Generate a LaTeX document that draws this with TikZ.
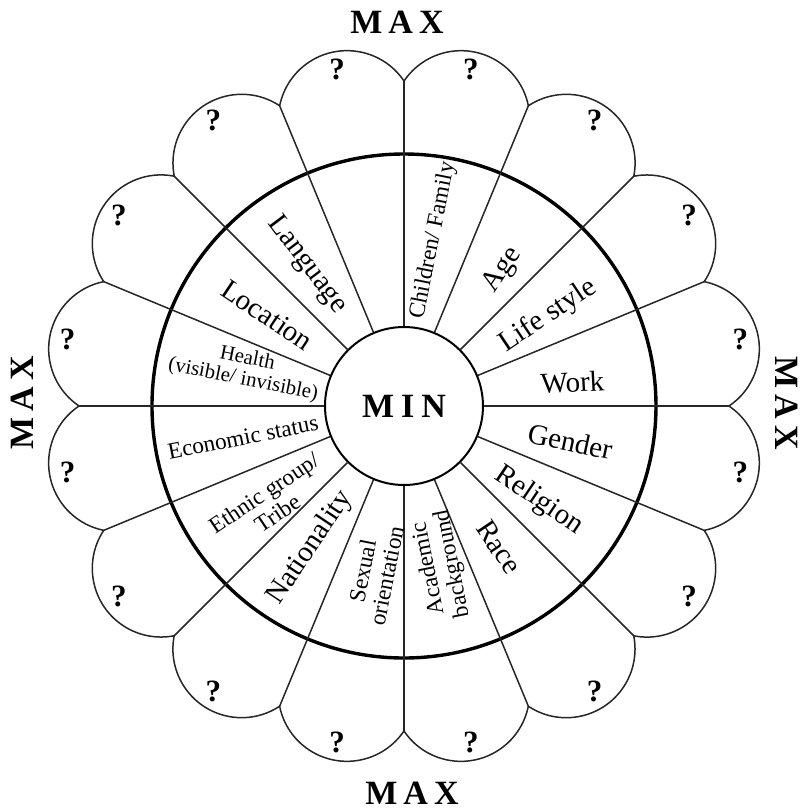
\documentclass[tikz,border=0pt]{standalone}
\usepackage{fontspec}
\setmainfont{Liberation Serif}
\begin{document}
\begin{tikzpicture}[x=0.5pt, y=0.5pt,
        every node/.style={align=center, inner sep=0pt},
        hub/.style={circle, draw, line width=1pt, minimum size=79pt, font=\bfseries\fontsize{17}{19}\selectfont},
        ring/.style={line width=1.7pt},
        spoke/.style={line width=0.75pt, draw=black!85},
        petal/.style={line width=0.75pt, draw=black!85},
        lbl/.style={font=\fontsize{14.5}{16}\selectfont},
        lblsmall/.style={font=\fontsize{11.6}{12.2}\selectfont},
        lbltiny/.style={font=\fontsize{10.4}{10.6}\selectfont},
        maxlbl/.style={font=\bfseries\fontsize{17}{19}\selectfont},
        qmark/.style={font=\bfseries\fontsize{15.5}{17}\selectfont}
    ]
        \useasboundingbox (-404,-405) rectangle (398,406);

        \node[hub] (min) at (0,0) {M\kern3.5pt I\kern3.5pt N};
        \draw[ring] (0,0) circle[radius=252];

        % spokes, petals and question marks
        \foreach \i in {0,...,15} {
            \pgfmathsetmacro\mang{22.5*\i+11.25}
            \coordinate (c\i) at (22.5*\i:325);
            \draw[spoke] (min) -- (c\i);
            \draw[petal] (c\i) arc[start angle=\mang-67.3, end angle=\mang+67.3, radius=68.7];
            \node[qmark] (q\i) at (\mang:343) {?};
        }

        \node[lblsmall, rotate=78.75] (family)      at (80:168)     {Children/ Family};
        \node[lbl, rotate=56.25]      (age)         at (54:168)     {Age};
        \node[lbl, rotate=33.75]      (lifestyle)   at (32:170)     {Life style};
        \node[lbl, rotate=3]          (work)        at (8:170)      {Work};
        \node[lbl, rotate=-12]        (gender)      at (-12:170)    {Gender};
        \node[lbl, rotate=-34]        (religion)    at (-35:165)    {Religion};
        \node[lbl, rotate=-56.25]     (race)        at (-56:170)    {Race};
        \node[lblsmall, rotate=101.25] (academic)   at (-77:164)    {Academic\\background};
        \node[lblsmall, rotate=78.75] (sexual)      at (-100:170)   {Sexual\\orientation};
        \node[lbl, rotate=56.25]      (nationality) at (-123.5:170) {Nationality};
        \node[lblsmall, rotate=33.75] (ethnic)      at (-144:165)   {Ethnic group/\\Tribe};
        \node[lblsmall, rotate=11.25] (economic)    at (-169:164)   {Economic status};
        \node[lbltiny, rotate=-11.25] (health)      at (167:163)    {Health\\(visible/ invisible)};
        \node[lbl, rotate=-33.75]     (location)    at (146.5:164)  {Location};
        \node[lbl, rotate=-53]        (language)    at (124.5:171)  {Language};

        \node[maxlbl]             (maxtop)    at (-7,384)  {M\kern3pt A\kern3pt X};
        \node[maxlbl]             (maxbottom) at (8,-387)  {M\kern3pt A\kern3pt X};
        \node[maxlbl, rotate=90]  (maxleft)   at (-382,3)  {M\kern3pt A\kern3pt X};
        \node[maxlbl, rotate=-90] (maxright)  at (383,3)   {M\kern3pt A\kern3pt X};
\end{tikzpicture}
\end{document}
